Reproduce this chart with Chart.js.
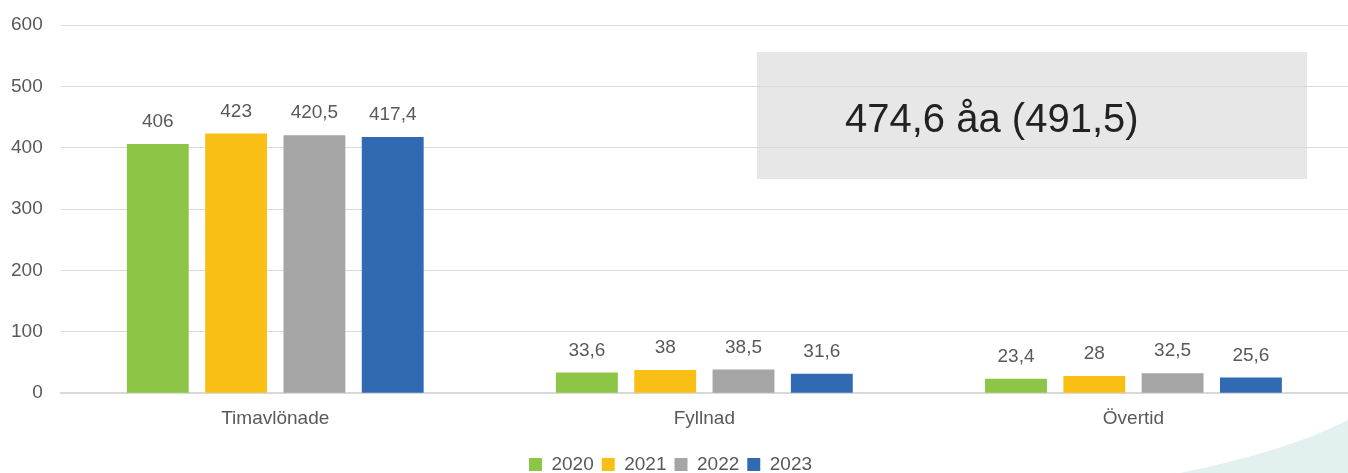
<!DOCTYPE html>
<html><head><meta charset="utf-8">
<script src="https://cdn.jsdelivr.net/npm/chart.js@4"></script>
<style>html,body{margin:0;padding:0;background:#fff;}#wrap{width:1348px;height:473px;position:relative;}</style>
</head><body><div id="wrap"><canvas id="c" width="1348" height="473"></canvas></div>
<script>
const categories = ["Timavlönade", "Fyllnad", "Övertid"];
const years = ["2020", "2021", "2022", "2023"];
const v2020 = [406, 33.6, 23.4];
const v2021 = [423, 38, 28];
const v2022 = [420.5, 38.5, 32.5];
const v2023 = [417.4, 31.6, 25.6];
const yTicks = [0, 100, 200, 300, 400, 500, 600];
const boxText = "474,6 åa (491,5)";

const colors = ["#8DC647", "#F9BF15", "#A5A5A5", "#3169B3"];
const series = [v2020, v2021, v2022, v2023];
const fmt = v => String(v).replace('.', ',');
const FONT = '"Liberation Sans", Arial, sans-serif';

const bgPlugin = {
  id: 'bg',
  beforeDraw(chart) {
    const ctx = chart.ctx;
    const W = chart.width, H = chart.height;
    ctx.save();
    ctx.fillStyle = '#E2F1EF';
    ctx.beginPath();
    ctx.moveTo(W - 168, H);
    ctx.quadraticCurveTo(W - 60, H - 22, W, H - 53);
    ctx.lineTo(W, H);
    ctx.closePath();
    ctx.fill();
    const ys = chart.scales.y;
    const top = ys.getPixelForValue(556), bot = ys.getPixelForValue(349);
    const left = 757, right = 1307;
    ctx.fillStyle = '#E7E7E7';
    ctx.fillRect(left, top, right - left, bot - top);
    ctx.fillStyle = '#222222';
    ctx.font = '40px ' + FONT;
    ctx.textAlign = 'left';
    ctx.textBaseline = 'middle';
    ctx.fillText(boxText, left + 88, (top + bot) / 2 + 5);
    ctx.restore();
  }
};

const labelPlugin = {
  id: 'vals',
  afterDatasetsDraw(chart) {
    const ctx = chart.ctx;
    ctx.save();
    ctx.fillStyle = '#595959';
    ctx.font = '19px ' + FONT;
    ctx.textAlign = 'center';
    ctx.textBaseline = 'middle';
    chart.data.datasets.forEach((ds, i) => {
      const meta = chart.getDatasetMeta(i);
      meta.data.forEach((bar, j) => {
        ctx.fillText(fmt(ds.data[j]), bar.x, bar.y - 22);
      });
    });
    ctx.restore();
  }
};

new Chart(document.getElementById('c'), {
  type: 'bar',
  data: {
    labels: categories,
    datasets: years.map((y, i) => ({
      label: y, data: series[i], backgroundColor: colors[i],
      categoryPercentage: 0.73, barPercentage: 0.79
    }))
  },
  options: {
    responsive: false,
    animation: false,
    layout: { padding: { left: -7, right: 0, top: 25, bottom: -11 } },
    plugins: {
      legend: {
        position: 'bottom',
        labels: { color: '#595959', font: { size: 19, family: FONT },
          boxWidth: 13, boxHeight: 13, padding: 8 }
      },
      tooltip: { enabled: false }
    },
    scales: {
      x: {
        grid: { display: false },
        border: { color: '#D9D9D9', width: 2 },
        ticks: { color: '#595959', font: { size: 19, family: FONT }, padding: 6 },
        afterFit: s => { s.height += 11; }
      },
      y: {
        min: 0, max: 600,
        afterBuildTicks: s => { s.ticks = yTicks.map(v => ({ value: v })); },
        afterFit: s => { s.paddingTop = 0; },
        grid: { color: '#D9D9D9', drawTicks: false },
        border: { display: false },
        ticks: { color: '#595959', font: { size: 19, family: FONT }, padding: 18 }
      }
    }
  },
  plugins: [bgPlugin, labelPlugin]
});
</script></body></html>
